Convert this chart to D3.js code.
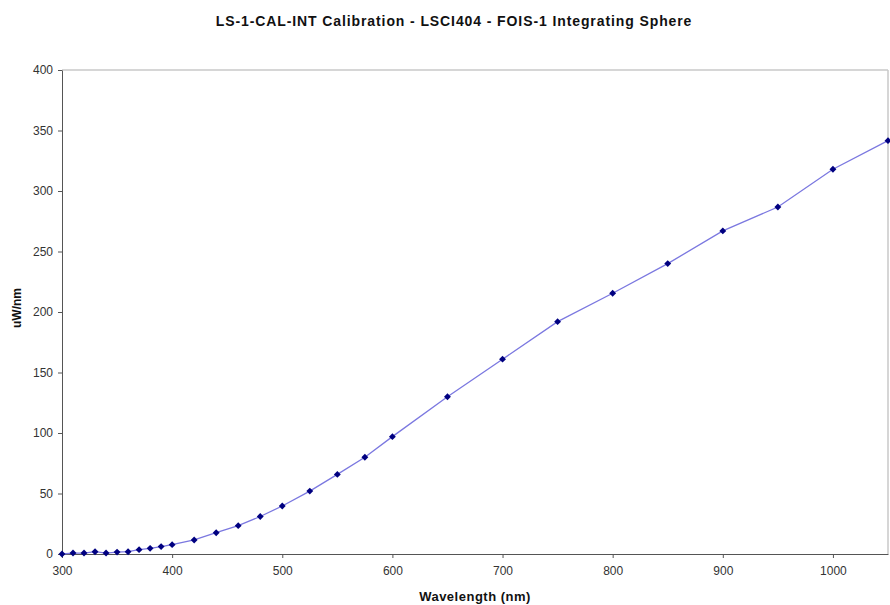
<!DOCTYPE html>
<html>
<head>
<meta charset="utf-8">
<script src="https://cdn.jsdelivr.net/npm/d3@7"></script>
<style>
  body { margin: 0; background: #fff; }
  svg { font-family: "Liberation Sans", Arial, sans-serif; }
  .axis text { font-size: 12px; fill: #333; }
  .axis path, .axis line { stroke: #555; }
</style>
</head>
<body>
<svg id="chart"></svg>
<script>
'use strict';

var wavelengths = [300, 310, 320, 330, 340, 350, 360, 370, 380, 390, 400,
  420, 440, 460, 480, 500, 525, 550, 575, 600, 650, 700, 750, 800, 850,
  900, 950, 1000, 1050];
var power = [0, 0.8, 0.8, 1.9, 0.8, 1.6, 1.9, 3.6, 4.7, 6.1, 7.7,
  11.6, 17.6, 23.4, 31, 39.7, 52, 65.8, 80, 97, 130, 161, 192, 215.5, 240,
  267, 286.8, 318, 341.6];
var xTicks = [300, 400, 500, 600, 700, 800, 900, 1000];
var yTicks = [0, 50, 100, 150, 200, 250, 300, 350, 400];

var width = 890,
  height = 605,
  margin = {'top': 70, 'left': 62, 'right': 2, 'bottom': 51};

var svg = d3.select('#chart')
  .attr('width', width)
  .attr('height', height);

var w = width - margin.left - margin.right,
  h = height - margin.top - margin.bottom;

var xScale = d3.scaleLinear().domain([300, 1050]).range([0, w]);
var yScale = d3.scaleLinear().domain([0, 400]).range([h, 0]);

var g = svg.append('g')
  .attr('transform', 'translate(' + margin.left + ',' + margin.top + ')');

// plot area frame (top and right light grey)
g.append('line')
  .attr('x1', 0).attr('x2', w).attr('y1', 0).attr('y2', 0)
  .attr('stroke', '#c8c8c8').attr('stroke-width', 1.5);
g.append('line')
  .attr('x1', w).attr('x2', w).attr('y1', 0).attr('y2', h)
  .attr('stroke', '#c8c8c8').attr('stroke-width', 1.5);

var xAxis = d3.axisBottom(xScale).tickValues(xTicks).tickSizeInner(4)
  .tickSizeOuter(0).tickPadding(8).tickFormat(d3.format('d'));
var yAxis = d3.axisLeft(yScale).tickValues(yTicks).tickSizeInner(4)
  .tickSizeOuter(0).tickPadding(5);

g.append('g')
  .attr('class', 'x axis')
  .attr('transform', 'translate(0,' + h + ')')
  .call(xAxis);

g.append('g')
  .attr('class', 'y axis')
  .call(yAxis);

var data = wavelengths.map(function (x, i) { return [x, power[i]]; });

var line = d3.line()
  .x(function (d) { return xScale(d[0]); })
  .y(function (d) { return yScale(d[1]); });

g.append('path')
  .datum(data)
  .attr('d', line)
  .attr('fill', 'none')
  .attr('stroke', '#7b78e0')
  .attr('stroke-width', 1.3);

g.selectAll('path.marker').data(data).enter()
  .append('path')
  .classed('marker', true)
  .attr('d', d3.symbol().type(d3.symbolDiamond2).size(30))
  .attr('transform', function (d) {
    return 'translate(' + xScale(d[0]) + ',' + yScale(d[1]) + ')';
  })
  .attr('fill', '#000080');

svg.append('text')
  .attr('x', 454)
  .attr('y', 26)
  .attr('text-anchor', 'middle')
  .style('font-size', '14px')
  .style('font-weight', 'bold')
  .style('letter-spacing', '0.9px')
  .style('fill', '#111')
  .text('LS-1-CAL-INT Calibration - LSCI404 - FOIS-1 Integrating Sphere');

svg.append('text')
  .attr('x', margin.left + w / 2)
  .attr('y', 601)
  .attr('text-anchor', 'middle')
  .style('font-size', '13px')
  .style('font-weight', 'bold')
  .style('letter-spacing', '0.5px')
  .style('fill', '#111')
  .text('Wavelength (nm)');

svg.append('text')
  .attr('transform', 'translate(21,' + (margin.top + h / 2 - 4) + ') rotate(-90)')
  .attr('text-anchor', 'middle')
  .style('font-size', '12px')
  .style('font-weight', 'bold')
  .style('fill', '#111')
  .text('uW/nm');
</script>
</body>
</html>
